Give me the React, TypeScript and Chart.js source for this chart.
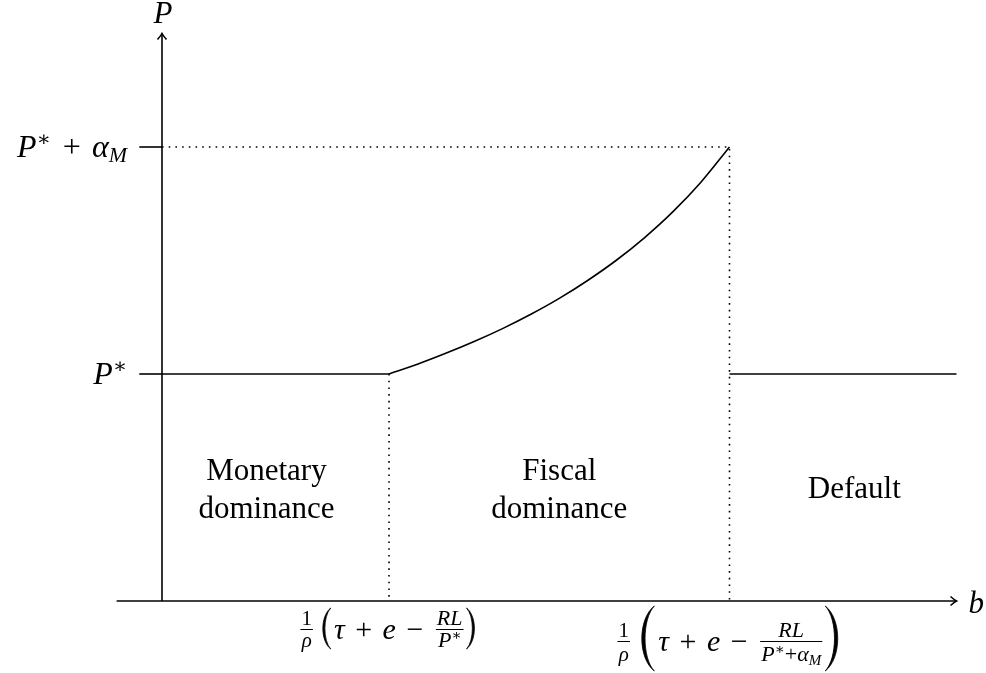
import React, { useEffect, useRef } from "react";
import { Chart, registerables } from "chart.js";

Chart.register(...registerables);

// ---- data ----
const bThresholds = [1, 2.5]; // b1 = (1/ρ)(τ+e−RL/P*), b2 = (1/ρ)(τ+e−RL/(P*+α_M))
const pLevels = [1, 2]; // P*, P*+α_M
const bAxisRange = [-0.2, 3.5];
const pAxisRange = [0, 2.5];
const curveB = [1.0, 1.125, 1.25, 1.375, 1.5, 1.625, 1.75, 1.875, 2.0, 2.125, 2.25, 2.375, 2.5];
const curveP = [1.0, 1.043, 1.091, 1.143, 1.2, 1.263, 1.333, 1.412, 1.5, 1.6, 1.714, 1.846, 2.0];
const defaultB = [2.5, 3.5];
const regionNames = [["Monetary", "dominance"], ["Fiscal", "dominance"], ["Default"]];
const regionCentersB = [0.46, 1.75, 3.05];
const regionCenterP = 0.5;

// ---- style ----
const FONT = '"Liberation Serif", "DejaVu Serif", serif';
const IT = (s: number) => `italic ${s}px ${FONT}`;
const RM = (s: number) => `${s}px ${FONT}`;
const TICK_LEN = 0.1;
const LW = 1.6;

type Piece = { t: string; f: string; dy?: number; dx?: number };
type Item =
  | { k: "txt"; p: Piece[] }
  | { k: "frac"; num: Piece[]; den: Piece[] }
  | { k: "paren"; side: "L" | "R"; up: number; down: number }
  | { k: "sp"; w: number };

function piecesWidth(ctx: CanvasRenderingContext2D, pcs: Piece[]) {
  let w = 0;
  for (const p of pcs) {
    ctx.font = p.f;
    w += ctx.measureText(p.t).width + (p.dx || 0);
  }
  return w;
}
function drawPieces(ctx: CanvasRenderingContext2D, x: number, base: number, pcs: Piece[]) {
  for (const p of pcs) {
    ctx.font = p.f;
    ctx.fillText(p.t, x, base + (p.dy || 0));
    x += ctx.measureText(p.t).width + (p.dx || 0);
  }
  return x;
}
function itemWidth(ctx: CanvasRenderingContext2D, it: Item) {
  if (it.k === "txt") return piecesWidth(ctx, it.p);
  if (it.k === "frac") return Math.max(piecesWidth(ctx, it.num), piecesWidth(ctx, it.den)) + 4;
  if (it.k === "paren") return (it.up + it.down) * 0.22 + 5;
  return it.w;
}
function drawMath(ctx: CanvasRenderingContext2D, cx: number, axis: number, items: Item[], denOff: number) {
  const total = items.reduce((s, it) => s + itemWidth(ctx, it), 0);
  let x = cx - total / 2;
  const base = axis + 10;
  for (const it of items) {
    const w = itemWidth(ctx, it);
    if (it.k === "txt") drawPieces(ctx, x, base, it.p);
    else if (it.k === "frac") {
      const nw = piecesWidth(ctx, it.num);
      const dw = piecesWidth(ctx, it.den);
      drawPieces(ctx, x + (w - nw) / 2, axis - 4, it.num);
      drawPieces(ctx, x + (w - dw) / 2, axis + denOff, it.den);
      ctx.beginPath();
      ctx.lineWidth = 1;
      ctx.moveTo(x + 1, axis + 0.5);
      ctx.lineTo(x + w - 1, axis + 0.5);
      ctx.stroke();
    } else if (it.k === "paren") {
      const h = it.up + it.down;
      const pw = h * 0.19;
      const top = axis - it.up;
      const bot = axis + it.down;
      const mid = (top + bot) / 2;
      ctx.beginPath();
      if (it.side === "L") {
        const xr = x + pw + 3;
        ctx.moveTo(xr, top);
        ctx.bezierCurveTo(xr - pw * 1.35, mid - h * 0.3, xr - pw * 1.35, mid + h * 0.3, xr, bot);
        ctx.bezierCurveTo(xr - pw * 1.0, mid + h * 0.3, xr - pw * 1.0, mid - h * 0.3, xr, top);
      } else {
        const xl = x + 2;
        ctx.moveTo(xl, top);
        ctx.bezierCurveTo(xl + pw * 1.35, mid - h * 0.3, xl + pw * 1.35, mid + h * 0.3, xl, bot);
        ctx.bezierCurveTo(xl + pw * 1.0, mid + h * 0.3, xl + pw * 1.0, mid - h * 0.3, xl, top);
      }
      ctx.fill();
      ctx.lineWidth = 0.8;
      ctx.stroke();
    }
    x += w;
  }
}

const mainRun: Piece[] = [
  { t: "τ", f: IT(30), dx: 3 },
  { t: " + ", f: RM(30), dx: 3 },
  { t: "e", f: IT(30), dx: 3 },
  { t: " − ", f: RM(30), dx: 4 },
];
const label1: Item[] = [
  { k: "frac", num: [{ t: "1", f: RM(21) }], den: [{ t: "ρ", f: IT(21) }] },
  { k: "sp", w: 6 },
  { k: "paren", side: "L", up: 21, down: 20 },
  { k: "txt", p: mainRun },
  { k: "frac", num: [{ t: "RL", f: IT(22) }], den: [{ t: "P", f: IT(22) }, { t: "∗", f: RM(15), dy: -7 }] },
  { k: "paren", side: "R", up: 21, down: 20 },
];
const label2: Item[] = [
  { k: "frac", num: [{ t: "1", f: RM(21) }], den: [{ t: "ρ", f: IT(21) }] },
  { k: "sp", w: 8 },
  { k: "paren", side: "L", up: 35, down: 30 },
  { k: "txt", p: mainRun },
  {
    k: "frac",
    num: [{ t: "RL", f: IT(22) }],
    den: [
      { t: "P", f: IT(22) },
      { t: "∗", f: RM(15), dy: -7 },
      { t: "+", f: RM(22) },
      { t: "α", f: IT(22) },
      { t: "M", f: IT(15), dy: 4 },
    ],
  },
  { k: "paren", side: "R", up: 35, down: 30 },
];

export default function App() {
  const ref = useRef<HTMLCanvasElement>(null);
  useEffect(() => {
    if (!ref.current) return;
    const line = (data: { x: number; y: number }[], extra: any = {}) => ({
      data,
      showLine: true,
      borderColor: "#000",
      borderWidth: LW,
      pointRadius: 0,
      pointHoverRadius: 0,
      fill: false,
      clip: false,
      ...extra,
    });
    const dotted = { borderDash: [1.6, 5.1], borderWidth: 1.6 };

    const overlay = {
      id: "overlay",
      afterDatasetsDraw(chart: any) {
        const { ctx } = chart;
        const xs = chart.scales.x;
        const ys = chart.scales.y;
        const X = (v: number) => xs.getPixelForValue(v);
        const Y = (v: number) => ys.getPixelForValue(v);
        ctx.save();
        ctx.strokeStyle = "#000";
        ctx.fillStyle = "#000";
        ctx.lineWidth = LW;
        // arrow heads
        const xt = X(bAxisRange[1]);
        const y0 = Y(0);
        ctx.beginPath();
        ctx.moveTo(xt - 6, y0 - 4.5);
        ctx.quadraticCurveTo(xt - 2, y0 - 1, xt, y0);
        ctx.quadraticCurveTo(xt - 2, y0 + 1, xt - 6, y0 + 4.5);
        ctx.stroke();
        const x0 = X(0);
        const yt = Y(pAxisRange[1]);
        ctx.beginPath();
        ctx.moveTo(x0 - 4.5, yt + 6);
        ctx.quadraticCurveTo(x0 - 1, yt + 2, x0, yt);
        ctx.quadraticCurveTo(x0 + 1, yt + 2, x0 + 4.5, yt + 6);
        ctx.stroke();

        ctx.textBaseline = "alphabetic";
        ctx.textAlign = "left";
        // axis names
        ctx.font = IT(31);
        const pw = ctx.measureText("P").width;
        ctx.fillText("P", x0 - pw / 2 + 1, yt - 11);
        ctx.fillText("b", xt + 12, y0 + 12);

        // y tick labels
        const tl1: Piece[] = [{ t: "P", f: IT(32) }, { t: "∗", f: RM(21), dy: -11 }];
        const tl2: Piece[] = [
          { t: "P", f: IT(32) },
          { t: "∗", f: RM(21), dy: -11, dx: 4 },
          { t: " + ", f: RM(32), dx: 3 },
          { t: "α", f: IT(32) },
          { t: "M", f: IT(22), dy: 5 },
        ];
        const right = x0 - 35;
        drawPieces(ctx, right - piecesWidth(ctx, tl1), Y(pLevels[0]) + 10, tl1);
        drawPieces(ctx, right - piecesWidth(ctx, tl2), Y(pLevels[1]) + 10, tl2);

        // region labels
        ctx.textAlign = "center";
        ctx.font = RM(31);
        regionNames.forEach((lines, i) => {
          const cx = X(regionCentersB[i]);
          const cy = Y(regionCenterP);
          if (lines.length === 1) ctx.fillText(lines[0], cx, cy + 10.5);
          else {
            ctx.fillText(lines[0], cx, cy - 7.5);
            ctx.fillText(lines[1], cx, cy + 30.5);
          }
        });
        ctx.textAlign = "left";

        // x tick labels (math)
        drawMath(ctx, X(bThresholds[0]), y0 + 28, label1, 18);
        drawMath(ctx, X(bThresholds[1]), y0 + 40, label2, 20);
        ctx.restore();
      },
    };

    const chart = new Chart(ref.current, {
      type: "scatter",
      data: {
        datasets: [
          line([{ x: 0, y: pAxisRange[0] }, { x: 0, y: pAxisRange[1] }]),
          line([{ x: bAxisRange[0], y: 0 }, { x: bAxisRange[1], y: 0 }]),
          line([{ x: -TICK_LEN, y: pLevels[0] }, { x: 0, y: pLevels[0] }]),
          line([{ x: -TICK_LEN, y: pLevels[1] }, { x: 0, y: pLevels[1] }]),
          line([{ x: 0, y: pLevels[0] }, { x: bThresholds[0], y: pLevels[0] }]),
          line(curveB.map((b, i) => ({ x: b, y: curveP[i] })), { cubicInterpolationMode: "monotone" }),
          line(defaultB.map((b) => ({ x: b, y: pLevels[0] }))),
          line(
            [
              { x: 0, y: pLevels[1] },
              { x: bThresholds[1], y: pLevels[1] },
              { x: bThresholds[1], y: 0 },
            ],
            dotted
          ),
          line([{ x: bThresholds[0], y: pLevels[0] }, { x: bThresholds[0], y: 0 }], dotted),
        ],
      },
      options: {
        animation: false,
        responsive: false,
        maintainAspectRatio: false,
        devicePixelRatio: 1,
        events: [],
        layout: { padding: { left: 48.5, right: 29.5, top: 33.5, bottom: 26.6 } },
        scales: {
          x: { type: "linear", min: -0.5, max: 3.5, display: false },
          y: { type: "linear", min: -0.2, max: 2.5, display: false },
        },
        plugins: { legend: { display: false }, tooltip: { enabled: false }, title: { display: false } },
      } as any,
      plugins: [overlay],
    });
    return () => chart.destroy();
  }, []);
  return (
    <div style={{ position: "absolute", left: 0, top: 0, width: 986, height: 673, background: "#fff" }}>
      <canvas ref={ref} width={986} height={673} style={{ display: "block" }} />
    </div>
  );
}
